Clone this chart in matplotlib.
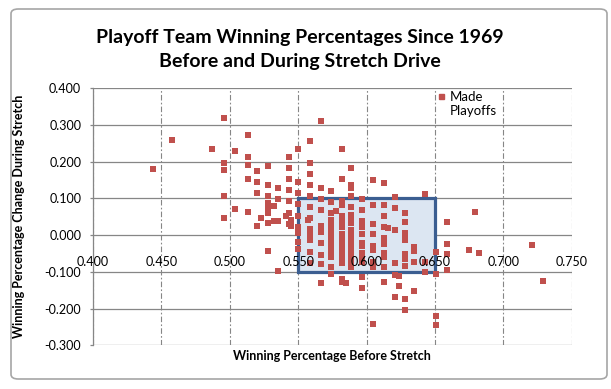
import numpy as np
import matplotlib.pyplot as plt
from matplotlib.patches import Rectangle, FancyBboxPatch
from matplotlib.lines import Line2D
from matplotlib.legend_handler import HandlerLine2D

plt.rcParams['font.family'] = ['Lato', 'DejaVu Sans']

# winning pct before stretch (one entry per column of dots)
col_x = [0.444, 0.458, 0.487, 0.496, 0.504, 0.513, 0.520, 0.523, 0.528, 0.532,
         0.535, 0.541, 0.543, 0.545, 0.550, 0.557, 0.559, 0.567, 0.574, 0.578,
         0.582, 0.585, 0.589, 0.597, 0.605, 0.613, 0.616, 0.621, 0.624, 0.628,
         0.635, 0.643, 0.651, 0.659, 0.675, 0.679, 0.682, 0.721, 0.729]
# change in winning pct during stretch, for each column above
col_y = [
    [0.181],
    [0.260],
    [0.235],
    [0.320, 0.197, 0.178, 0.107, 0.047],
    [0.230, 0.072],
    [0.274, 0.214, 0.192, 0.154, 0.064],
    [0.176, 0.145, 0.115, 0.026],
    [0.047],
    [0.189, 0.137, 0.107, 0.088, 0.077, 0.061, 0.034, -0.043],
    [0.080, 0.039],
    [0.129, 0.099, 0.039, -0.097],
    [0.053],
    [0.214, 0.184, 0.154, 0.124, 0.094, 0.061, 0.031],
    [0.042, 0.026],
    [0.235, 0.145, 0.115, 0.086, 0.053, 0.021, 0.006, -0.018, -0.037],
    [0.042],
    [0.257, 0.197, 0.167, 0.137, 0.107, 0.077, 0.047, 0.017, 0.002, -0.013, -0.045, -0.075],
    [0.312, 0.129, 0.099, 0.069, 0.026, 0.009, -0.022, -0.055, -0.078, -0.130],
    [0.121, 0.091, 0.061, 0.042, 0.031, 0.014, 0.003, -0.013, -0.030, -0.045, -0.059, -0.086, -0.105],
    [0.066],
    [0.235, 0.154, 0.094, 0.088, 0.083, 0.053, 0.047, 0.036, 0.023, 0.003, -0.013, -0.030, -0.045,
     -0.059, -0.075, -0.119, -0.127],
    [-0.130],
    [0.184, 0.137, 0.129, 0.107, 0.077, 0.056, 0.047, 0.034, 0.015, 0.000, -0.013, -0.030, -0.045,
     -0.059, -0.075, -0.086],
    [0.099, 0.069, 0.039, 0.023, 0.003, -0.021, -0.030, -0.048, -0.059, -0.072, -0.113, -0.143],
    [0.151, 0.083, 0.031, 0.002, -0.030, -0.041, -0.072, -0.086, -0.241],
    [0.143, 0.083, 0.053, 0.023, -0.008, -0.024, -0.048, -0.059, -0.086, -0.127],
    [0.020],
    [0.105, 0.075, 0.015, -0.075, -0.108, -0.168],
    [-0.110, -0.138],
    [0.061, 0.036, 0.006, -0.005, -0.013, -0.050, -0.066, -0.084, -0.173, -0.203],
    [-0.032, -0.043, -0.072, -0.152],
    [0.113, -0.072, -0.100],
    [-0.045, -0.105, -0.219, -0.245],
    [0.036, -0.024, -0.050, -0.094],
    [-0.040],
    [0.064],
    [-0.048],
    [-0.026],
    [-0.124],
]
box_x = [0.55, 0.65]
box_y = [-0.1, 0.1]
xticks = [0.40, 0.45, 0.50, 0.55, 0.60, 0.65, 0.70, 0.75]
yticks = [-0.3, -0.2, -0.1, 0.0, 0.1, 0.2, 0.3, 0.4]

before = []
change = []
for x, ys in zip(col_x, col_y):
    for y in ys:
        before.append(x)
        change.append(y)

red = '#C0504D'
grid_c = '#868686'

fig = plt.figure(figsize=(6.11, 3.89), dpi=100)
fig.patch.set_facecolor('white')
W, H = 611.0, 389.0
pos = [93 / W, 1 - 345.3 / H, (571.7 - 93) / W, (345.3 - 88.3) / H]

# chart border
fig.add_artist(FancyBboxPatch((11 / W, 10 / H), 596 / W, 370 / H,
                              boxstyle='round,pad=0,rounding_size=0.012',
                              transform=fig.transFigure, facecolor='white',
                              edgecolor='#A6A6A6', lw=1.2, zorder=0))

ax = fig.add_axes(pos)
ax.set_facecolor('none')
ax.set_xlim(0.4, 0.75)
ax.set_ylim(-0.3, 0.4)
ax.set_axisbelow(True)
ax.set_xticks(xticks)
ax.set_yticks(yticks)
ax.set_yticklabels(['%.3f' % abs(v) if abs(v) < 1e-9 else '%.3f' % v for v in yticks])
ax.yaxis.grid(True, color=grid_c, lw=0.9)
ax.xaxis.grid(True, color=grid_c, lw=0.8, linestyle=(0, (5, 2, 1.5, 2)))
for s in ['top', 'right', 'bottom']:
    ax.spines[s].set_visible(False)
ax.spines['left'].set_color(grid_c)
ax.spines['left'].set_linewidth(0.9)
ax.tick_params(axis='x', length=0, labelbottom=False)
ax.tick_params(axis='y', length=2.5, color=grid_c, width=0.9, pad=6, labelsize=9)

ax.add_patch(Rectangle((box_x[0], box_y[0]), box_x[1] - box_x[0], box_y[1] - box_y[0],
                       facecolor='#DCE6F2', edgecolor='#3B5E91', lw=2.3, zorder=1.5))
ax.scatter(before, change, marker='s', s=15, color=red, linewidths=0, zorder=2)

ax.set_xlabel('Winning Percentage Before Stretch', fontsize=9, fontweight='bold')
ax.xaxis.set_label_coords(0.5, -0.02)
ax.set_ylabel('Winning Percentage Change During Stretch', fontsize=9, fontweight='bold')
ax.yaxis.set_label_coords(-0.143, 0.5)


class TopMarker(HandlerLine2D):
    def create_artists(self, legend, orig_handle, xdescent, ydescent, width, height,
                       fontsize, trans):
        arts = super().create_artists(legend, orig_handle, xdescent, ydescent, width,
                                      height, fontsize, trans)
        for a in arts:
            a.set_ydata(np.asarray(a.get_ydata()) + 0.6 * fontsize)
        return arts


h = Line2D([], [], marker='s', markersize=3.6, color=red, linestyle='none')
fig.legend([h], ['Made\nPlayoffs'], loc='upper left',
           bbox_to_anchor=(437 / W, 1 - 91 / H), frameon=False, fontsize=9.5,
           handlelength=0.6, handletextpad=0.35, borderpad=0, borderaxespad=0,
           handler_map={h: TopMarker()})

# overlay axes so the x tick labels sit on top of the box and dots
ax2 = fig.add_axes(pos, sharex=ax)
ax2.set_ylim(-0.3, 0.4)
ax2.patch.set_visible(False)
for s in ['top', 'right', 'left']:
    ax2.spines[s].set_visible(False)
ax2.spines['bottom'].set_position(('data', 0))
ax2.spines['bottom'].set_visible(False)
ax2.set_yticks([])
ax2.set_xticks(xticks)
ax2.set_xticklabels(['%.3f' % v for v in xticks])
ax2.tick_params(axis='x', length=0, pad=15, labelsize=9)

fig.text(300 / W, 1 - 37 / H, 'Playoff Team Winning Percentages Since 1969',
         ha='center', va='center', fontsize=14, fontweight='bold')
fig.text(300 / W, 1 - 61 / H, 'Before and During Stretch Drive',
         ha='center', va='center', fontsize=14, fontweight='bold')

fig.savefig('out.png', dpi=100)
